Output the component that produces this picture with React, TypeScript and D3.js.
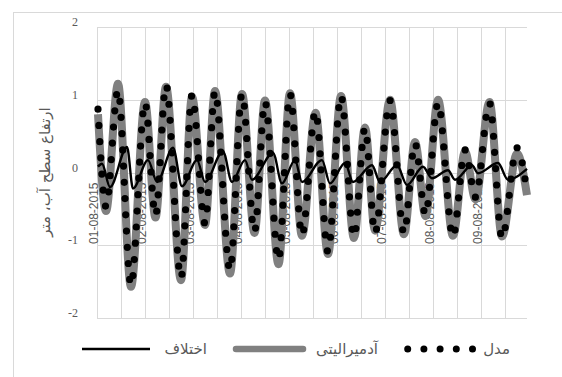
import React from 'react';
import * as d3 from 'd3';

// Series (hour from 01-08-2015 00:00, water level in m) — turning points
const modelHours = [0, 4, 10, 16.5, 23.5, 28.75, 34, 41.5, 47, 53.5, 58.5, 66, 72, 78.25, 83.5, 90.25, 96, 102, 108.75, 115, 121.5, 128, 133.5, 138.5, 146, 153, 158.5, 163.75, 170, 177.5, 183.5, 188.75, 195.75, 202, 209.5, 214.5];
const modelLevels = [0.87, -0.47, 1.13, -1.55, 0.96, -0.59, 1.2, -1.45, 1.065, -0.7, 1.11, -1.34, 1.08, -0.81, 0.97, -1.2, 1.08, -0.86, 0.84, -1.09, 1.05, -0.88, 0.61, -0.83, 0.99, -0.83, 0.4, -0.58, 0.955, -0.88, 0.31, -0.34, 0.955, -0.9, 0.34, -0.27];

const observedHours = [0, 4, 10, 16.5, 23.5, 28.75, 34, 41.5, 47, 53.5, 58.5, 66, 72, 78.25, 83.5, 90.25, 96, 102, 108.75, 115, 121.5, 128, 133.5, 138.5, 146, 153, 158.5, 163.75, 170, 177.5, 183.5, 188.75, 195.75, 202, 209.5, 214.5];
const observedLevels = [0.8, -0.53, 1.22, -1.57, 0.97, -0.62, 1.18, -1.48, 1.04, -0.72, 1.12, -1.39, 1.08, -0.83, 0.99, -1.26, 1.09, -0.87, 0.82, -1.12, 1.05, -0.9, 0.62, -0.8, 1.0, -0.85, 0.42, -0.6, 1.0, -0.87, 0.29, -0.37, 0.97, -0.88, 0.26, -0.31];

const diffHours = [0, 2, 6, 14.5, 17.5, 25, 29.5, 37.5, 42, 49.5, 53.5, 62.5, 67, 73.5, 77, 87.5, 92, 98.5, 102, 112, 116, 123.5, 127.5, 137, 141, 149.5, 154.5, 162.5, 167, 175, 178.5, 187, 190, 200, 205, 214.5];
const diffLevels = [0.08, 0.12, -0.2, 0.35, -0.22, 0.17, -0.13, 0.34, -0.19, 0.17, -0.13, 0.29, -0.13, 0.17, -0.1, 0.27, -0.15, 0.17, -0.13, 0.17, -0.15, 0.13, -0.13, 0.1, -0.13, 0.1, -0.17, 0.08, -0.08, 0.03, -0.1, 0.1, -0.01, 0.13, -0.1, 0.05];

const dateLabels = ['01-08-2015', '02-08-2015', '03-08-2015', '04-08-2015', '05-08-2015', '06-08-2015', '07-08-2015', '08-08-2015', '09-08-2015'];
const yTicks = [-2, -1, 0, 1, 2];

const seriesNames = ['مدل', 'آدمیرالیتی', 'اختلاف'];
const yTitle = 'ارتفاع سطح آب، متر';

const textGray = '#595959';
const gridGray = '#d9d9d9';
const arabicFont = "'DejaVu Sans', 'Noto Sans', sans-serif";

export default function App() {
  const x = d3.scaleLinear().domain([-0.5, 214.5]).range([97, 527]);
  const y = d3.scaleLinear().domain([-2, 2]).range([318, 27]);
  const line = d3
    .line<[number, number]>()
    .x((d) => x(d[0]))
    .y((d) => y(d[1]))
    .curve(d3.curveMonotoneX);

  const zip = (hs: number[], vs: number[]) => hs.map((h, i) => [h, vs[i]] as [number, number]);
  const modelPath = line(zip(modelHours, modelLevels)) || '';
  const obsPath = line(zip(observedHours, observedLevels)) || '';
  const diffPath = line(zip(diffHours, diffLevels)) || '';

  const vGrid = d3.range(0, 18).map((k) => -0.5 + 12 * k);
  const dateHours = dateLabels.map((_, i) => i * 24);

  const legendY = 349;

  return (
    <svg
      width={562}
      height={377}
      style={{ position: 'absolute', left: 0, top: 0, background: '#fff' }}
    >
      <rect x={0} y={0} width={562} height={377} fill="#fff" />
      <rect x={13.5} y={12.5} width={600} height={400} fill="none" stroke={gridGray} strokeWidth={1} />

      {/* gridlines */}
      {vGrid.map((h) => (
        <line key={'v' + h} x1={Math.round(x(h)) + 0.5} x2={Math.round(x(h)) + 0.5} y1={y(2)} y2={y(-2)} stroke={gridGray} strokeWidth={1} />
      ))}
      {yTicks.map((t) => (
        <line key={'h' + t} x1={x(-0.5)} x2={x(214.5)} y1={Math.round(y(t)) + 0.5} y2={Math.round(y(t)) + 0.5} stroke={gridGray} strokeWidth={1} />
      ))}

      {/* y tick labels */}
      {yTicks.map((t) => (
        <text
          key={'yt' + t}
          x={78}
          y={y(t) - 1}
          textAnchor="end"
          fontFamily="'Liberation Serif', serif"
          fontSize={12}
          fill={textGray}
        >
          {t}
        </text>
      ))}

      {/* date labels */}
      {dateLabels.map((d, i) => (
        <text
          key={d}
          transform={`translate(${x(dateHours[i])},${y(0) + 10}) rotate(-90)`}
          textAnchor="end"
          fontFamily="'Liberation Sans', Arial, sans-serif"
          fontSize={12}
          fill={textGray}
        >
          {d}
        </text>
      ))}

      {/* series */}
      <path d={obsPath} fill="none" stroke="#808080" strokeWidth={8} strokeLinejoin="round" />
      <path d={diffPath} fill="none" stroke="#000" strokeWidth={2.4} strokeLinejoin="round" />
      <path
        d={modelPath}
        fill="none"
        stroke="#000"
        strokeWidth={7.2}
        strokeLinecap="round"
        strokeDasharray="0 16.2"
      />

      {/* y axis title */}
      <text
        transform={`translate(50,172) rotate(-90)`}
        textAnchor="middle"
        fontFamily={arabicFont}
        fontSize={15}
        fill={textGray}
      >
        {yTitle}
      </text>

      {/* legend */}
      <g>
        <text x={510} y={legendY + 5} textAnchor="end" fontFamily={arabicFont} fontSize={15} fill={textGray}>
          {seriesNames[0]}
        </text>
        <line x1={407.7} x2={473} y1={legendY} y2={legendY} stroke="#000" strokeWidth={7} strokeLinecap="round" strokeDasharray="0 16.2" />
        <text x={378} y={legendY + 5} textAnchor="end" fontFamily={arabicFont} fontSize={15} fill={textGray}>
          {seriesNames[1]}
        </text>
        <line x1={236} x2={303} y1={legendY} y2={legendY} stroke="#808080" strokeWidth={6.5} strokeLinecap="round" />
        <text x={207} y={legendY + 5} textAnchor="end" fontFamily={arabicFont} fontSize={15} fill={textGray}>
          {seriesNames[2]}
        </text>
        <line x1={82} x2={150} y1={legendY} y2={legendY} stroke="#000" strokeWidth={2.4} />
      </g>
    </svg>
  );
}
